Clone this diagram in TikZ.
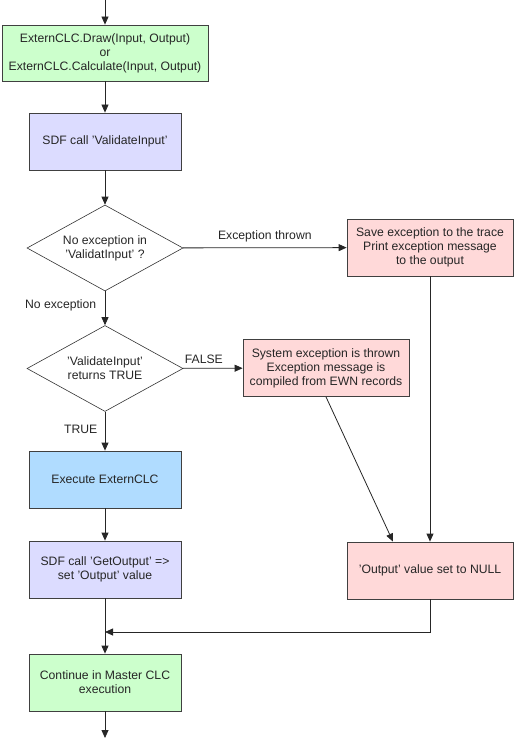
\documentclass[tikz,border=0pt]{standalone}
\usepackage{fontspec}
\setmainfont{Liberation Sans}
\usetikzlibrary{arrows.meta,shapes.geometric}
\definecolor{boxgreen}{RGB}{204,255,204}
\definecolor{boxlilac}{RGB}{220,220,255}
\definecolor{boxblue}{RGB}{176,220,255}
\definecolor{boxpink}{RGB}{255,217,217}
\definecolor{edgegray}{RGB}{64,64,64}
\begin{document}
\begin{tikzpicture}[x=1pt, y=-1pt,
  every node/.style={font=\fontsize{12.2pt}{14pt}\selectfont, text=black!85},
  block/.style={draw=edgegray, line width=0.8pt, align=center, inner sep=0pt, minimum height=57pt},
  test/.style={draw=black!80, line width=0.6pt, diamond, aspect=1.8, align=center, inner sep=0pt, minimum width=156pt, minimum height=86pt},
  flow/.style={draw=black!85, line width=0.8pt, -{Triangle[length=8pt,width=7pt]}}]

\useasboundingbox (0,0) rectangle (515,738);

\coordinate (start) at (105,0);
\node [block, fill=boxgreen, minimum width=206pt, minimum height=56pt] (call) at (105,53)
  {ExternCLC.Draw(Input, Output)\\or\\ExternCLC.Calculate(Input, Output)};
\node [block, fill=boxlilac, minimum width=152pt] (validate) at (105,141.5) {SDF call 'ValidateInput'};
\node [test] (noexc) at (105,248) {No exception in\\'ValidatInput' ?};
\node [block, fill=boxpink, minimum width=166pt] (trace) at (430,247.5)
  {Save exception to the trace\\Print exception message\\to the output};
\node [test] (istrue) at (105,368.5) {'ValidateInput'\\returns TRUE};
\node [block, fill=boxpink, minimum width=166pt] (sysexc) at (326,368)
  {System exception is thrown\\Exception message is\\compiled from EWN records};
\node [block, fill=boxblue, minimum width=152pt] (execute) at (105,479.5) {Execute ExternCLC};
\node [block, fill=boxlilac, minimum width=152pt] (getout) at (105,569.5)
  {SDF call 'GetOutput' =>\\set 'Output' value};
\node [block, fill=boxpink, minimum width=166pt] (setnull) at (430,570.5) {'Output' value set to NULL};
\node [block, fill=boxgreen, minimum width=152pt] (master) at (105,682.5)
  {Continue in Master CLC\\execution};
\coordinate (join) at (105,632);
\coordinate (finish) at (105,738);

\draw [flow] (start) -- (call);
\draw [flow] (call) -- (validate);
\draw [flow] (validate) -- (noexc);
\draw [flow] (noexc) -- node [above=2pt] {Exception thrown} (trace);
\draw [flow] (noexc) -- node [pos=0.4, left=5pt] {No exception} (istrue);
\draw [flow] (istrue) -- node [pos=0.35, above=1pt] {FALSE} (sysexc);
\draw [flow] (istrue) -- node [pos=0.45, left=4pt] {TRUE} (execute);
\draw [flow] (execute) -- (getout);
\draw [flow] (getout) -- (master);
\draw [flow] (sysexc.south) -- ([xshift=-37pt]setnull.north);
\draw [flow] (trace) -- (setnull);
\draw [flow] (setnull) |- (join);
\draw [flow] (master) -- (finish);

\end{tikzpicture}
\end{document}
